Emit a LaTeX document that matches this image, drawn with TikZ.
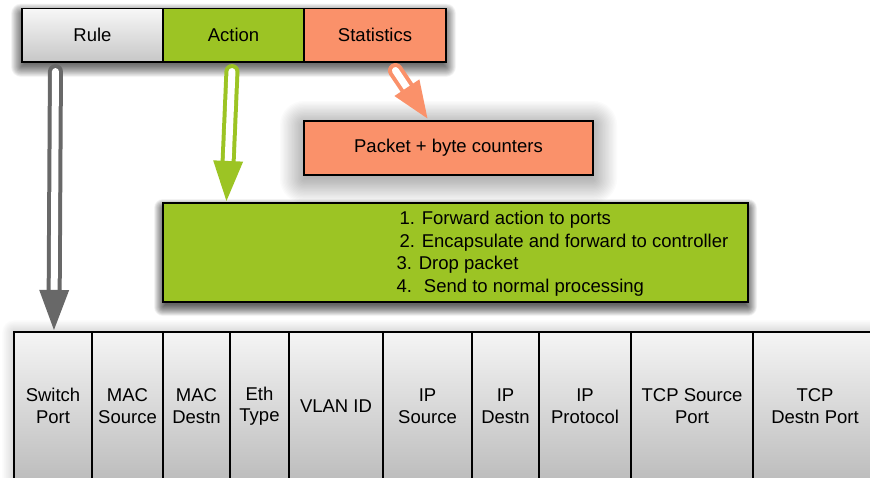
\documentclass[tikz,border=0pt]{standalone}
\usepackage{fontspec}
\setmainfont{Liberation Sans}
\usetikzlibrary{calc}
\definecolor{ofgreen}{RGB}{156,196,36}
\definecolor{ofsalmon}{RGB}{250,145,106}
\definecolor{ofgray}{RGB}{104,104,104}
\newcommand\fatarrow[4]{%
  \coordinate (hb) at ($(#3)!#4!(#2)$);
  \draw[#1, line width=15pt, line cap=round] (#2) -- (hb);
  \draw[white, line width=7pt, line cap=round] (#2) -- (hb);
  \fill[#1] ($(hb)!15pt!90:(#3)$) -- (#3) -- ($(hb)!15pt!-90:(#3)$) -- cycle;
}
% soft shadow: x1,y1,x2,y2,radius,y offset,opacity per layer
\newcommand\softshadow[7]{%
  \foreach \k in {0,...,23}{%
    \pgfmathsetmacro\rr{#5*(\k/23)*1.3-0.3*#5}
    \pgfmathsetmacro\rc{max(\rr,0.01)}
    \fill[black, opacity=#7, rounded corners=\rc pt] ({#1-\rr},{#2-\rr+#6}) rectangle ({#3+\rr},{#4+\rr+#6});
  }}
\begin{document}
\begin{tikzpicture}[x=1pt,y=-1pt,
  lbl/.style={font=\fontsize{18.5}{21.5}\selectfont, align=center},
  topbox/.style={lbl, draw=black, line width=1.1pt, minimum height=53.5pt, inner sep=0pt},
  cell/.style={lbl, draw=black, line width=1.1pt, minimum height=148pt, inner sep=0pt,
               top color=black!4, bottom color=black!26}]
\useasboundingbox (0,0) rectangle (870,477);
\clip (0,0) rectangle (870,477);
\fill[white] (0,0) rectangle (870,477);

% shadows
\softshadow{21}{8.5}{446}{62}{10}{5}{0.032}
\softshadow{304}{121}{593}{175}{24}{4}{0.016}
\softshadow{163}{203}{748}{302}{9}{5}{0.034}
\softshadow{14}{332}{878}{480}{12}{0}{0.006}

% top row
\node[topbox, minimum width=141pt, top color=black!3, bottom color=black!22] (rule) at (92.5,35.25) {Rule};
\node[topbox, minimum width=141pt, fill=ofgreen] (action) at (233.5,35.25) {Action};
\node[topbox, minimum width=142pt, fill=ofsalmon] (stats) at (375,35.25) {Statistics};

% packet counters
\node[topbox, minimum width=289pt, minimum height=54pt, fill=ofsalmon] (pkt) at (448.5,148) {Packet + byte counters};

% action list
\node[topbox, minimum width=585pt, minimum height=99pt, fill=ofgreen] (act) at (455.5,252.5) {};
\node[lbl, align=left, anchor=west, font=\fontsize{18.5}{22.5}\selectfont] (actlist) at (393,253.5)
  {\hspace*{3pt}1. Forward action to ports\\
   \hspace*{3pt}2. Encapsulate and forward to controller\\
   3. Drop packet\\
   4. \ Send to normal processing};

% header fields table
\node[cell, minimum width=78pt]  (c1)  at (53,406)    {Switch\\Port};
\node[cell, minimum width=71pt]  (c2)  at (127.5,406) {MAC\\Source};
\node[cell, minimum width=67pt]  (c3)  at (196.5,406) {MAC\\Destn};
\node[cell, minimum width=59pt]  (c4)  at (259.5,406) {Eth\\Type};
\node[cell, minimum width=94pt]  (c5)  at (336,406)   {VLAN ID};
\node[cell, minimum width=89pt]  (c6)  at (427.5,406) {IP\\Source};
\node[cell, minimum width=67pt]  (c7)  at (505.5,406) {IP\\Destn};
\node[cell, minimum width=92pt]  (c8)  at (585,406)   {IP\\Protocol};
\node[cell, minimum width=122pt] (c9)  at (692,406)   {TCP Source\\Port};
\node[cell, minimum width=124pt] (c10) at (815,406)   {TCP\\Destn Port};

% arrows
\coordinate (rs) at ($(rule.south west)+(34,9)$);
\coordinate (rt) at ($(c1.north west)+(40.5,-1.5)$);
\coordinate (as) at ($(action.south west)+(69.5,9)$);
\coordinate (at2) at ($(act.north west)+(64,-1.5)$);
\coordinate (ss) at ($(stats.south west)+(92,8)$);
\coordinate (st) at ($(pkt.north west)+(124,-2)$);
\fatarrow{ofgray}{rs}{rt}{40pt}
\fatarrow{ofgreen}{as}{at2}{40pt}
\fatarrow{ofsalmon}{ss}{st}{37pt}
\end{tikzpicture}
\end{document}
